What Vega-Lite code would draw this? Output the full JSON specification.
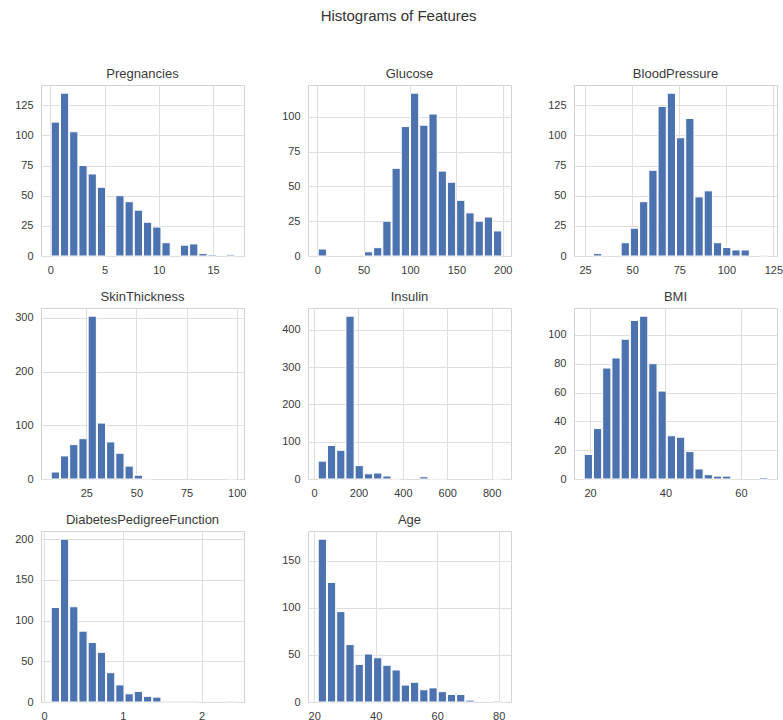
{
  "$schema": "https://vega.github.io/schema/vega-lite/v6.json",
  "padding": {"left": 14, "top": 8, "right": 3, "bottom": 3},
  "background": "white",
  "title": {"text": "Histograms of Features", "fontSize": 15, "font": "Liberation Sans", "fontWeight": "normal", "color": "#333333", "anchor": "middle", "offset": 44},
  "datasets": {
    "preg": [
      {"a": 0, "b": 0.85, "n": 111}, {"a": 0.85, "b": 1.7, "n": 135}, {"a": 1.7, "b": 2.55, "n": 103}, {"a": 2.55, "b": 3.4, "n": 75},
      {"a": 3.4, "b": 4.25, "n": 68}, {"a": 4.25, "b": 5.1, "n": 57}, {"a": 5.95, "b": 6.8, "n": 50}, {"a": 6.8, "b": 7.65, "n": 45},
      {"a": 7.65, "b": 8.5, "n": 38}, {"a": 8.5, "b": 9.35, "n": 28}, {"a": 9.35, "b": 10.2, "n": 24}, {"a": 10.2, "b": 11.05, "n": 11},
      {"a": 11.9, "b": 12.75, "n": 9}, {"a": 12.75, "b": 13.6, "n": 10}, {"a": 13.6, "b": 14.45, "n": 2}, {"a": 14.45, "b": 15.3, "n": 1},
      {"a": 16.15, "b": 17, "n": 1}
    ],
    "glu": [
      {"a": 0, "b": 9.95, "n": 5}, {"a": 49.75, "b": 59.7, "n": 3}, {"a": 59.7, "b": 69.65, "n": 6}, {"a": 69.65, "b": 79.6, "n": 25},
      {"a": 79.6, "b": 89.55, "n": 63}, {"a": 89.55, "b": 99.5, "n": 93}, {"a": 99.5, "b": 109.45, "n": 117}, {"a": 109.45, "b": 119.4, "n": 94},
      {"a": 119.4, "b": 129.35, "n": 102}, {"a": 129.35, "b": 139.3, "n": 61}, {"a": 139.3, "b": 149.25, "n": 53}, {"a": 149.25, "b": 159.2, "n": 40},
      {"a": 159.2, "b": 169.15, "n": 31}, {"a": 169.15, "b": 179.1, "n": 25}, {"a": 179.1, "b": 189.05, "n": 28}, {"a": 189.05, "b": 199, "n": 18}
    ],
    "bp": [
      {"a": 28.9, "b": 33.8, "n": 2}, {"a": 43.6, "b": 48.5, "n": 11}, {"a": 48.5, "b": 53.4, "n": 23}, {"a": 53.4, "b": 58.3, "n": 45},
      {"a": 58.3, "b": 63.2, "n": 71}, {"a": 63.2, "b": 68.1, "n": 124}, {"a": 68.1, "b": 73, "n": 135}, {"a": 73, "b": 77.9, "n": 98},
      {"a": 77.9, "b": 82.8, "n": 114}, {"a": 82.8, "b": 87.7, "n": 49}, {"a": 87.7, "b": 92.6, "n": 54}, {"a": 92.6, "b": 97.5, "n": 11},
      {"a": 97.5, "b": 102.4, "n": 7}, {"a": 102.4, "b": 107.3, "n": 5}, {"a": 107.3, "b": 112.2, "n": 5}, {"a": 117.1, "b": 122, "n": 0.6}
    ],
    "skin": [
      {"a": 7, "b": 11.6, "n": 13}, {"a": 11.6, "b": 16.2, "n": 43}, {"a": 16.2, "b": 20.8, "n": 64}, {"a": 20.8, "b": 25.4, "n": 75},
      {"a": 25.4, "b": 30, "n": 303}, {"a": 30, "b": 34.6, "n": 104}, {"a": 34.6, "b": 39.2, "n": 69}, {"a": 39.2, "b": 43.8, "n": 48},
      {"a": 43.8, "b": 48.4, "n": 24}, {"a": 48.4, "b": 53, "n": 7}, {"a": 53, "b": 57.6, "n": 1}, {"a": 94.4, "b": 99, "n": 1}
    ],
    "ins": [
      {"a": 14, "b": 55.6, "n": 48}, {"a": 55.6, "b": 97.2, "n": 90}, {"a": 97.2, "b": 138.8, "n": 77}, {"a": 138.8, "b": 180.4, "n": 437},
      {"a": 180.4, "b": 222, "n": 36}, {"a": 222, "b": 263.6, "n": 14}, {"a": 263.6, "b": 305.2, "n": 16}, {"a": 305.2, "b": 346.8, "n": 8},
      {"a": 346.8, "b": 388.4, "n": 1}, {"a": 471.6, "b": 513.2, "n": 6}, {"a": 513.2, "b": 554.8, "n": 1}, {"a": 554.8, "b": 596.4, "n": 1},
      {"a": 804.4, "b": 846, "n": 1}
    ],
    "bmi": [
      {"a": 18.2, "b": 20.645, "n": 17}, {"a": 20.645, "b": 23.09, "n": 35}, {"a": 23.09, "b": 25.535, "n": 77}, {"a": 25.535, "b": 27.98, "n": 84},
      {"a": 27.98, "b": 30.425, "n": 97}, {"a": 30.425, "b": 32.87, "n": 110}, {"a": 32.87, "b": 35.315, "n": 113}, {"a": 35.315, "b": 37.76, "n": 80},
      {"a": 37.76, "b": 40.205, "n": 61}, {"a": 40.205, "b": 42.65, "n": 30}, {"a": 42.65, "b": 45.095, "n": 29}, {"a": 45.095, "b": 47.54, "n": 19},
      {"a": 47.54, "b": 49.985, "n": 7}, {"a": 49.985, "b": 52.43, "n": 3}, {"a": 52.43, "b": 54.875, "n": 2}, {"a": 54.875, "b": 57.32, "n": 2},
      {"a": 64.655, "b": 67.1, "n": 1}
    ],
    "dpf": [
      {"a": 0.078, "b": 0.1951, "n": 116}, {"a": 0.1951, "b": 0.3122, "n": 200}, {"a": 0.3122, "b": 0.4293, "n": 117}, {"a": 0.4293, "b": 0.5464, "n": 87},
      {"a": 0.5464, "b": 0.6635, "n": 73}, {"a": 0.6635, "b": 0.7806, "n": 61}, {"a": 0.7806, "b": 0.8977, "n": 36}, {"a": 0.8977, "b": 1.0148, "n": 21},
      {"a": 1.0148, "b": 1.1319, "n": 10}, {"a": 1.1319, "b": 1.249, "n": 13}, {"a": 1.249, "b": 1.3661, "n": 7}, {"a": 1.3661, "b": 1.4832, "n": 6},
      {"a": 1.4832, "b": 1.6003, "n": 1}, {"a": 1.6003, "b": 1.7174, "n": 1}, {"a": 1.7174, "b": 1.8345, "n": 1}, {"a": 1.8345, "b": 1.9516, "n": 1},
      {"a": 2.3029, "b": 2.42, "n": 1}
    ],
    "age": [
      {"a": 21, "b": 24, "n": 173}, {"a": 24, "b": 27, "n": 127}, {"a": 27, "b": 30, "n": 96}, {"a": 30, "b": 33, "n": 61},
      {"a": 33, "b": 36, "n": 40}, {"a": 36, "b": 39, "n": 51}, {"a": 39, "b": 42, "n": 47}, {"a": 42, "b": 45, "n": 39},
      {"a": 45, "b": 48, "n": 34}, {"a": 48, "b": 51, "n": 18}, {"a": 51, "b": 54, "n": 21}, {"a": 54, "b": 57, "n": 13},
      {"a": 57, "b": 60, "n": 15}, {"a": 60, "b": 63, "n": 11}, {"a": 63, "b": 66, "n": 8}, {"a": 66, "b": 69, "n": 8},
      {"a": 69, "b": 72, "n": 2}, {"a": 78, "b": 81, "n": 1}
    ]
  },
  "columns": 3,
  "spacing": {"row": 14, "column": 34},
  "concat": [
    {
      "title": "Pregnancies", "width": 203, "height": 171, "data": {"name": "preg"}, "mark": "bar",
      "encoding": {
        "x": {"field": "a", "type": "quantitative", "bin": {"binned": true}, "title": null, "scale": {"domain": [-0.85, 17.85], "nice": false, "zero": false}, "axis": {"values": [0, 5, 10, 15]}},
        "x2": {"field": "b"},
        "y": {"field": "n", "type": "quantitative", "title": null, "scale": {"domain": [0, 141.75], "nice": false}, "axis": {"values": [0, 25, 50, 75, 100, 125]}}
      }
    },
    {
      "title": "Glucose", "width": 203, "height": 171, "data": {"name": "glu"}, "mark": "bar",
      "encoding": {
        "x": {"field": "a", "type": "quantitative", "bin": {"binned": true}, "title": null, "scale": {"domain": [-9.95, 208.95], "nice": false, "zero": false}, "axis": {"values": [0, 50, 100, 150, 200]}},
        "x2": {"field": "b"},
        "y": {"field": "n", "type": "quantitative", "title": null, "scale": {"domain": [0, 122.85], "nice": false}, "axis": {"values": [0, 25, 50, 75, 100]}}
      }
    },
    {
      "title": "BloodPressure", "width": 203, "height": 171, "data": {"name": "bp"}, "mark": "bar",
      "encoding": {
        "x": {"field": "a", "type": "quantitative", "bin": {"binned": true}, "title": null, "scale": {"domain": [19.1, 126.9], "nice": false, "zero": false}, "axis": {"values": [25, 50, 75, 100, 125]}},
        "x2": {"field": "b"},
        "y": {"field": "n", "type": "quantitative", "title": null, "scale": {"domain": [0, 141.75], "nice": false}, "axis": {"values": [0, 25, 50, 75, 100, 125]}}
      }
    },
    {
      "title": "SkinThickness", "width": 203, "height": 171, "data": {"name": "skin"}, "mark": "bar",
      "encoding": {
        "x": {"field": "a", "type": "quantitative", "bin": {"binned": true}, "title": null, "scale": {"domain": [2.4, 103.6], "nice": false, "zero": false}, "axis": {"values": [25, 50, 75, 100]}},
        "x2": {"field": "b"},
        "y": {"field": "n", "type": "quantitative", "title": null, "scale": {"domain": [0, 318.15], "nice": false}, "axis": {"values": [0, 100, 200, 300]}}
      }
    },
    {
      "title": "Insulin", "width": 203, "height": 171, "data": {"name": "ins"}, "mark": "bar",
      "encoding": {
        "x": {"field": "a", "type": "quantitative", "bin": {"binned": true}, "title": null, "scale": {"domain": [-27.6, 887.6], "nice": false, "zero": false}, "axis": {"values": [0, 200, 400, 600, 800]}},
        "x2": {"field": "b"},
        "y": {"field": "n", "type": "quantitative", "title": null, "scale": {"domain": [0, 458.85], "nice": false}, "axis": {"values": [0, 100, 200, 300, 400]}}
      }
    },
    {
      "title": "BMI", "width": 203, "height": 171, "data": {"name": "bmi"}, "mark": "bar",
      "encoding": {
        "x": {"field": "a", "type": "quantitative", "bin": {"binned": true}, "title": null, "scale": {"domain": [15.755, 69.545], "nice": false, "zero": false}, "axis": {"values": [20, 40, 60]}},
        "x2": {"field": "b"},
        "y": {"field": "n", "type": "quantitative", "title": null, "scale": {"domain": [0, 118.65], "nice": false}, "axis": {"values": [0, 20, 40, 60, 80, 100]}}
      }
    },
    {
      "title": "DiabetesPedigreeFunction", "width": 203, "height": 171, "data": {"name": "dpf"}, "mark": "bar",
      "encoding": {
        "x": {"field": "a", "type": "quantitative", "bin": {"binned": true}, "title": null, "scale": {"domain": [-0.0391, 2.5371], "nice": false, "zero": false}, "axis": {"values": [0, 1, 2], "format": "d"}},
        "x2": {"field": "b"},
        "y": {"field": "n", "type": "quantitative", "title": null, "scale": {"domain": [0, 210], "nice": false}, "axis": {"values": [0, 50, 100, 150, 200]}}
      }
    },
    {
      "title": "Age", "width": 203, "height": 171, "data": {"name": "age"}, "mark": "bar",
      "encoding": {
        "x": {"field": "a", "type": "quantitative", "bin": {"binned": true}, "title": null, "scale": {"domain": [18, 84], "nice": false, "zero": false}, "axis": {"values": [20, 40, 60, 80]}},
        "x2": {"field": "b"},
        "y": {"field": "n", "type": "quantitative", "title": null, "scale": {"domain": [0, 181.65], "nice": false}, "axis": {"values": [0, 50, 100, 150]}}
      }
    }
  ],
  "config": {
    "view": {"stroke": "#d4d4d4", "strokeWidth": 1},
    "axis": {
      "grid": true, "gridColor": "#dedede", "gridWidth": 1, "domain": false, "ticks": false,
      "labelFont": "Liberation Sans", "labelFontSize": 11, "labelColor": "#3a3a3a", "labelPadding": 8,
      "labelFlush": false, "labelOverlap": false, "labelBound": false
    },
    "title": {"font": "Liberation Sans", "fontSize": 13, "fontWeight": "normal", "color": "#3a3a3a", "offset": 4},
    "bar": {"color": "#4c72b0", "stroke": "white", "strokeWidth": 1}
  }
}
